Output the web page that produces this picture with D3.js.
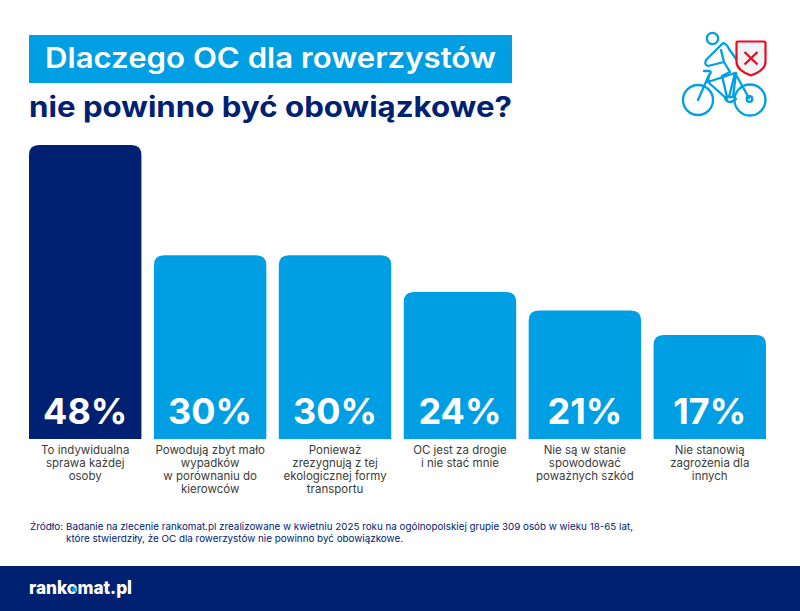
<!DOCTYPE html>
<html>
<head>
<meta charset="utf-8">
<title>Dlaczego OC dla rowerzystów</title>
<script src="https://cdn.jsdelivr.net/npm/d3@7"></script>
<style>
    html, body { margin: 0; padding: 0; background: #fff; }
    svg { display: block; }
    text { font-family: Inter, "Open Sans", sans-serif; }
</style>
</head>
<body>
<div id="chart"></div>
<script>
// values
var categories = ["c1", "c2", "c3", "c4", "c5", "c6"];
var values = [48, 30, 30, 24, 21, 17];
var valueLabels = ["48%", "30%", "30%", "24%", "21%", "17%"];
var labelLines = [
    ["To indywidualna", "sprawa każdej", "osoby"],
    ["Powodują zbyt mało", "wypadków", "w porównaniu do", "kierowców"],
    ["Ponieważ", "zrezygnują z tej", "ekologicznej formy", "transportu"],
    ["OC jest za drogie", "i nie stać mnie"],
    ["Nie są w stanie", "spowodować", "poważnych szkód"],
    ["Nie stanowią", "zagrożenia dla", "innych"]
];
var sourceLines = [
    "Badanie na zlecenie rankomat.pl zrealizowane w kwietniu 2025 roku na ogólnopolskiej grupie 309 osób w wieku 18-65 lat,",
    "które stwierdziły, że OC dla rowerzystów nie powinno być obowiązkowe."
];
var sourceWidths = [567, 337];

var width = 800, height = 611;
var navy = "#002172", blue = "#009fe3", red = "#ee0a1e";

var svg = d3.select("#chart").append("svg")
    .attr("width", width)
    .attr("height", height);

// title
svg.append("rect").attr("x", 29).attr("y", 35).attr("width", 483).attr("height", 48).attr("fill", blue);
svg.append("text").text("Dlaczego OC dla rowerzystów")
    .attr("x", 45).attr("y", 68)
    .attr("textLength", 451).attr("lengthAdjust", "spacingAndGlyphs")
    .attr("font-size", 28.5).attr("font-weight", 600).attr("fill", "#fff");
svg.append("text").text("nie powinno być obowiązkowe?")
    .attr("x", 29).attr("y", 117)
    .attr("textLength", 483).attr("lengthAdjust", "spacingAndGlyphs")
    .attr("font-size", 28.5).attr("font-weight", 700).attr("fill", navy);

// scales
var x = d3.scaleBand().domain(categories).range([29, 766]).paddingInner(0.1);
var y = d3.scaleLinear().domain([0, 48]).range([439, 145]);

function barPath(d, i) {
    var x0 = x(categories[i]), w = x.bandwidth(), top = y(d), r = 10;
    return "M" + x0 + "," + y(0) + "V" + (top + r) +
        "Q" + x0 + "," + top + " " + (x0 + r) + "," + top +
        "H" + (x0 + w - r) +
        "Q" + (x0 + w) + "," + top + " " + (x0 + w) + "," + (top + r) +
        "V" + y(0) + "Z";
}

svg.selectAll("path.bar")
    .data(values)
    .enter()
    .append("path")
    .attr("class", "bar")
    .attr("d", barPath)
    .attr("fill", function(d, i) { return i == 0 ? navy : blue; });

svg.selectAll("text.value")
    .data(valueLabels)
    .enter()
    .append("text")
    .attr("class", "value")
    .text(function(d) { return d; })
    .attr("x", function(d, i) { return x(categories[i]) + x.bandwidth() / 2; })
    .attr("y", 424)
    .attr("text-anchor", "middle")
    .attr("font-size", 36).attr("font-weight", 700).attr("fill", "#fff");

// category labels, one tspan per line
var labels = svg.selectAll("text.cat")
    .data(labelLines)
    .enter()
    .append("text")
    .attr("class", "cat")
    .attr("text-anchor", "middle")
    .attr("font-size", 11.5).attr("font-weight", 400).attr("fill", "#3c3c3b");

labels.selectAll("tspan")
    .data(function(d, i) { return d.map(function(s) { return { s: s, i: i }; }); })
    .enter()
    .append("tspan")
    .text(function(d) { return d.s; })
    .attr("x", function(d) { return x(categories[d.i]) + x.bandwidth() / 2; })
    .attr("y", function(d, j) { return 453.5 + j * 13; });

// source
svg.append("text").text("Źródło:")
    .attr("x", 30).attr("y", 530)
    .attr("textLength", 33).attr("lengthAdjust", "spacingAndGlyphs")
    .attr("font-size", 9.6).attr("fill", navy);
svg.selectAll("text.source")
    .data(sourceLines)
    .enter()
    .append("text")
    .attr("class", "source")
    .text(function(d) { return d; })
    .attr("x", 66)
    .attr("y", function(d, i) { return 530 + i * 12; })
    .attr("textLength", function(d, i) { return sourceWidths[i]; })
    .attr("lengthAdjust", "spacingAndGlyphs")
    .attr("font-size", 9.6).attr("fill", navy);

// footer and logo
svg.append("rect").attr("x", 0).attr("y", 566).attr("width", width).attr("height", 45).attr("fill", navy);
svg.append("text").text("rankomat.pl")
    .attr("x", 29).attr("y", 594)
    .attr("textLength", 103).attr("lengthAdjust", "spacingAndGlyphs")
    .attr("font-size", 18.5).attr("font-weight", 800).attr("fill", "#fff");
svg.append("path")
    .attr("d", d3.symbol().type(d3.symbolStar).size(22)())
    .attr("transform", "translate(74,589.5)")
    .attr("fill", blue);

// bicycle icon
var icon = svg.append("g")
    .attr("fill", "none").attr("stroke", blue).attr("stroke-width", 2.3)
    .attr("stroke-linecap", "round").attr("stroke-linejoin", "round");
icon.append("circle").attr("cx", 712.5).attr("cy", 38.5).attr("r", 5.7);
icon.append("circle").attr("cx", 698).attr("cy", 100).attr("r", 15);
icon.append("circle").attr("cx", 750).attr("cy", 100).attr("r", 15.5);
icon.append("circle").attr("cx", 749.5).attr("cy", 99).attr("r", 2.8);
// crank under the leg
icon.append("path").attr("d", "M725,97A5,5 0 0 0 733,101L736,99");
// frame
icon.append("path").attr("d", "M698,100L709,75M704,71H710Q712,72 709,75L708,82L727,99M708,82L735,73L749,98M735,73L729,97");
// rider: back, arm and the leg going down to the pedal
icon.append("path").attr("d", "M723,43L706,60Q704,65 708,66L724,62L721,50M723,43Q727,44 729,49L739,63M724,62L730,72L722,76L727,97L733,97L736,73");

// shield
var shield = svg.append("g");
shield.append("path")
    .attr("d", "M736.5,43Q736.5,41.5 738,41.5H764Q765.5,41.5 765.5,43V62Q765.5,70 751,75.5Q736.5,70 736.5,62Z")
    .attr("fill", "#f1f4f7").attr("stroke", red).attr("stroke-width", 2.2).attr("stroke-linejoin", "round");
shield.append("path")
    .attr("d", "M744.5,52L757.5,64.5M757.5,52L744.5,64.5")
    .attr("fill", "none").attr("stroke", red).attr("stroke-width", 2.4);
</script>
</body>
</html>
